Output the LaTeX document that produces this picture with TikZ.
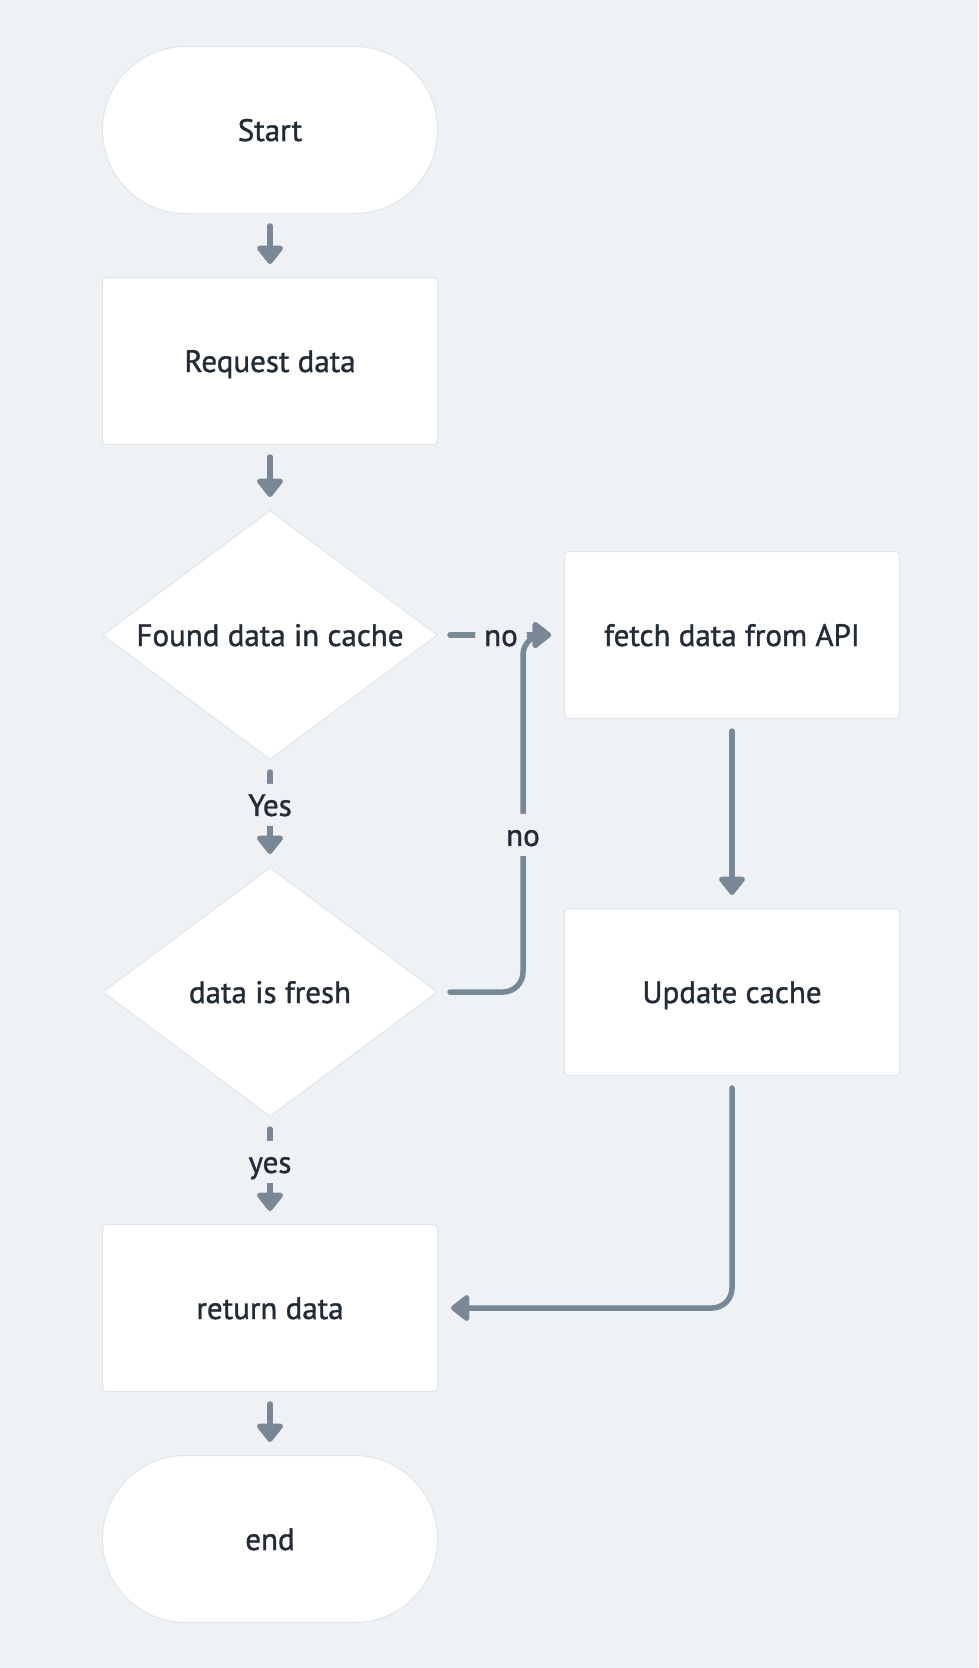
\documentclass[tikz,border=0pt]{standalone}
\usepackage{fontspec}
\setmainfont{PT Sans}[BoldFont=PT Sans,BoldFeatures={FakeBold=1.2}]
\usetikzlibrary{shapes.geometric,arrows.meta}
\definecolor{bg}{HTML}{EFF2F5}
\definecolor{linie}{HTML}{7A8795}
\definecolor{schrift}{HTML}{222B37}
\definecolor{rand}{HTML}{E1E5E9}

\begin{document}
\begin{tikzpicture}[x=1pt,y=-1pt,font=\fontsize{31}{37}\selectfont\bfseries,
  box/.style={draw=rand,line width=1pt,fill=white,rounded corners=4pt,minimum width=335pt,minimum height=167pt,text=schrift,text height=22pt,text depth=0pt},
  terminal/.style={box,rounded corners=83pt},
  raute/.style={draw=rand,line width=1pt,fill=white,diamond,aspect=1.345,minimum width=335pt,minimum height=249pt,inner sep=0pt,text=schrift,text height=22pt,text depth=0pt},
  pfeil/.style={draw=linie,line width=5.5pt,line cap=round,-{Triangle[length=20pt,width=30pt,round]},shorten <=12pt,shorten >=13pt,rounded corners=20pt},
  marke/.style={fill=bg,text=schrift,inner xsep=9pt,inner ysep=10pt,text height=22pt,text depth=0pt}]
\fill[bg] (0,0) rectangle (978,1668); %Hintergrund
\useasboundingbox (0,0) rectangle (978,1668);

%Knoten
\node[terminal] (start) at (270,130) {Start};
\node[box] (anfrage) at (270,361) {Request data};
\node[raute] (cache) at (270,635) {Found data in cache};
\node[box] (api) at (732,635) {fetch data from API};
\node[raute] (frisch) at (270,992) {data is fresh};
\node[box] (update) at (732,992) {Update cache};
\node[box] (rueckgabe) at (270,1308) {return data};
\node[terminal] (ende) at (270,1539) {end};
\coordinate (knick) at (523,635);

%Pfeile
\draw[pfeil] (start) -- (anfrage);
\draw[pfeil] (anfrage) -- (cache);
\draw[pfeil] (cache) -- node[marke,pos=0.42] {Yes} (frisch);
\draw[pfeil] (cache) -- node[marke] {no} (api);
\draw[pfeil] (frisch) -| node[marke,pos=0.72] {no} (knick) -- (api);
\draw[pfeil] (api) -- (update);
\draw[pfeil] (update) |- (rueckgabe);
\draw[pfeil] (frisch) -- node[marke,pos=0.42] {yes} (rueckgabe);
\draw[pfeil] (rueckgabe) -- (ende);
\end{tikzpicture}
\end{document}
